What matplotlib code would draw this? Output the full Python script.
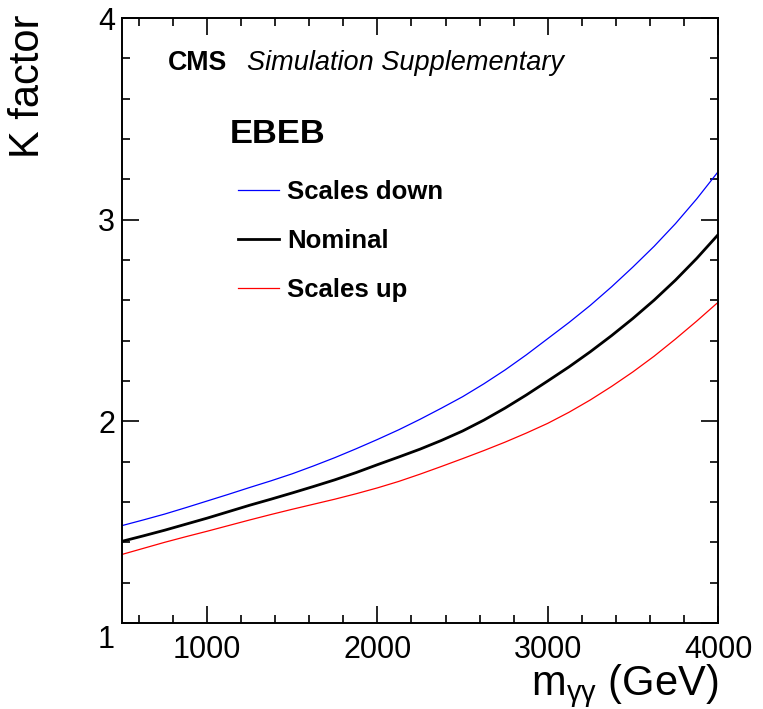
import matplotlib
matplotlib.use("Agg")
import matplotlib.pyplot as plt
from matplotlib.ticker import MultipleLocator, FixedLocator
import matplotlib.transforms as mtransforms

plt.rcParams['font.family'] = ['Liberation Sans', 'DejaVu Sans']

# Data
mass = [500, 625, 750, 875, 1000, 1125, 1250, 1375, 1500, 1625, 1750, 1875, 2000, 2125,
        2250, 2375, 2500, 2625, 2750, 2875, 3000, 3125, 3250, 3375, 3500, 3625, 3750, 3875, 4000]
k_down = [1.483, 1.511, 1.540, 1.572, 1.605, 1.638, 1.672, 1.705, 1.740, 1.779, 1.820, 1.864,
          1.910, 1.958, 2.010, 2.065, 2.122, 2.186, 2.255, 2.330, 2.410, 2.490, 2.575, 2.667,
          2.765, 2.868, 2.980, 3.103, 3.237]
k_nom = [1.405, 1.432, 1.460, 1.490, 1.520, 1.552, 1.584, 1.614, 1.645, 1.677, 1.710, 1.746,
         1.785, 1.823, 1.862, 1.905, 1.952, 2.006, 2.066, 2.131, 2.200, 2.270, 2.345, 2.425,
         2.510, 2.601, 2.700, 2.808, 2.925]
k_up = [1.340, 1.370, 1.400, 1.428, 1.455, 1.483, 1.511, 1.538, 1.564, 1.589, 1.614, 1.641,
        1.670, 1.702, 1.738, 1.776, 1.815, 1.855, 1.897, 1.942, 1.990, 2.045, 2.106, 2.173,
        2.245, 2.323, 2.408, 2.497, 2.590]
labels = ["Scales down", "Nominal", "Scales up"]
xticks = [1000, 2000, 3000, 4000]
yticks = [1, 2, 3, 4]

W, H = 763, 709
fig = plt.figure(figsize=(W / 100, H / 100), dpi=100)
ax = fig.add_axes([122 / W, 1 - 623 / H, (718 - 122) / W, (623 - 18) / H])

l1, = ax.plot(mass, k_down, color='#0000ff', lw=0.9)
l2, = ax.plot(mass, k_nom, color='black', lw=2.0)
l3, = ax.plot(mass, k_up, color='#ff0000', lw=0.9)

ax.set_xlim(500, 4000)
ax.set_ylim(1, 4)
ax.xaxis.set_major_locator(FixedLocator(xticks))
ax.xaxis.set_minor_locator(MultipleLocator(200))
ax.yaxis.set_major_locator(FixedLocator(yticks))
ax.yaxis.set_minor_locator(MultipleLocator(0.2))

for s in ax.spines.values():
    s.set_linewidth(1.4)
ax.tick_params(which='both', direction='in', top=True, right=True, width=1.2)
ax.tick_params(which='major', length=12.5)
ax.tick_params(which='minor', length=6)
ax.tick_params(axis='x', which='major', labelsize=22, pad=9)
ax.tick_params(axis='y', which='major', labelsize=22, pad=5)

# shift bottom y label downward like the reference
off = mtransforms.ScaledTranslation(0, -14 / 100, fig.dpi_scale_trans)
fig.canvas.draw()
ylabs = ax.get_yticklabels()
ylabs[0].set_transform(ylabs[0].get_transform() + off)

fig.text(718 / W, 1 - 695 / H, r'm$_{\mathregular{γγ}}$ (GeV)', ha='right', va='baseline', fontsize=30)
fig.text(8 / W, 1 - 14 / H, 'K factor', rotation=90, ha='left', va='top', fontsize=30)

fig.text(168 / W, 1 - 70 / H, 'CMS', fontweight='bold', fontsize=19.3, ha='left', va='baseline')
fig.text(247 / W, 1 - 70 / H, 'Simulation Supplementary', fontstyle='italic', fontsize=19.5,
         ha='left', va='baseline')
fig.text(230 / W, 1 - 143 / H, 'EBEB', fontweight='bold', fontsize=24.8, ha='left', va='baseline')

leg = ax.legend([l1, l2, l3], labels, loc='upper left',
                bbox_to_anchor=(238 / W, 1 - 180 / H), bbox_transform=fig.transFigure,
                frameon=False, borderaxespad=0, borderpad=0,
                handlelength=1.6, handletextpad=0.3, labelspacing=0.97,
                prop={'weight': 'bold', 'size': 18.5})

fig.savefig('out.png', dpi=100)
